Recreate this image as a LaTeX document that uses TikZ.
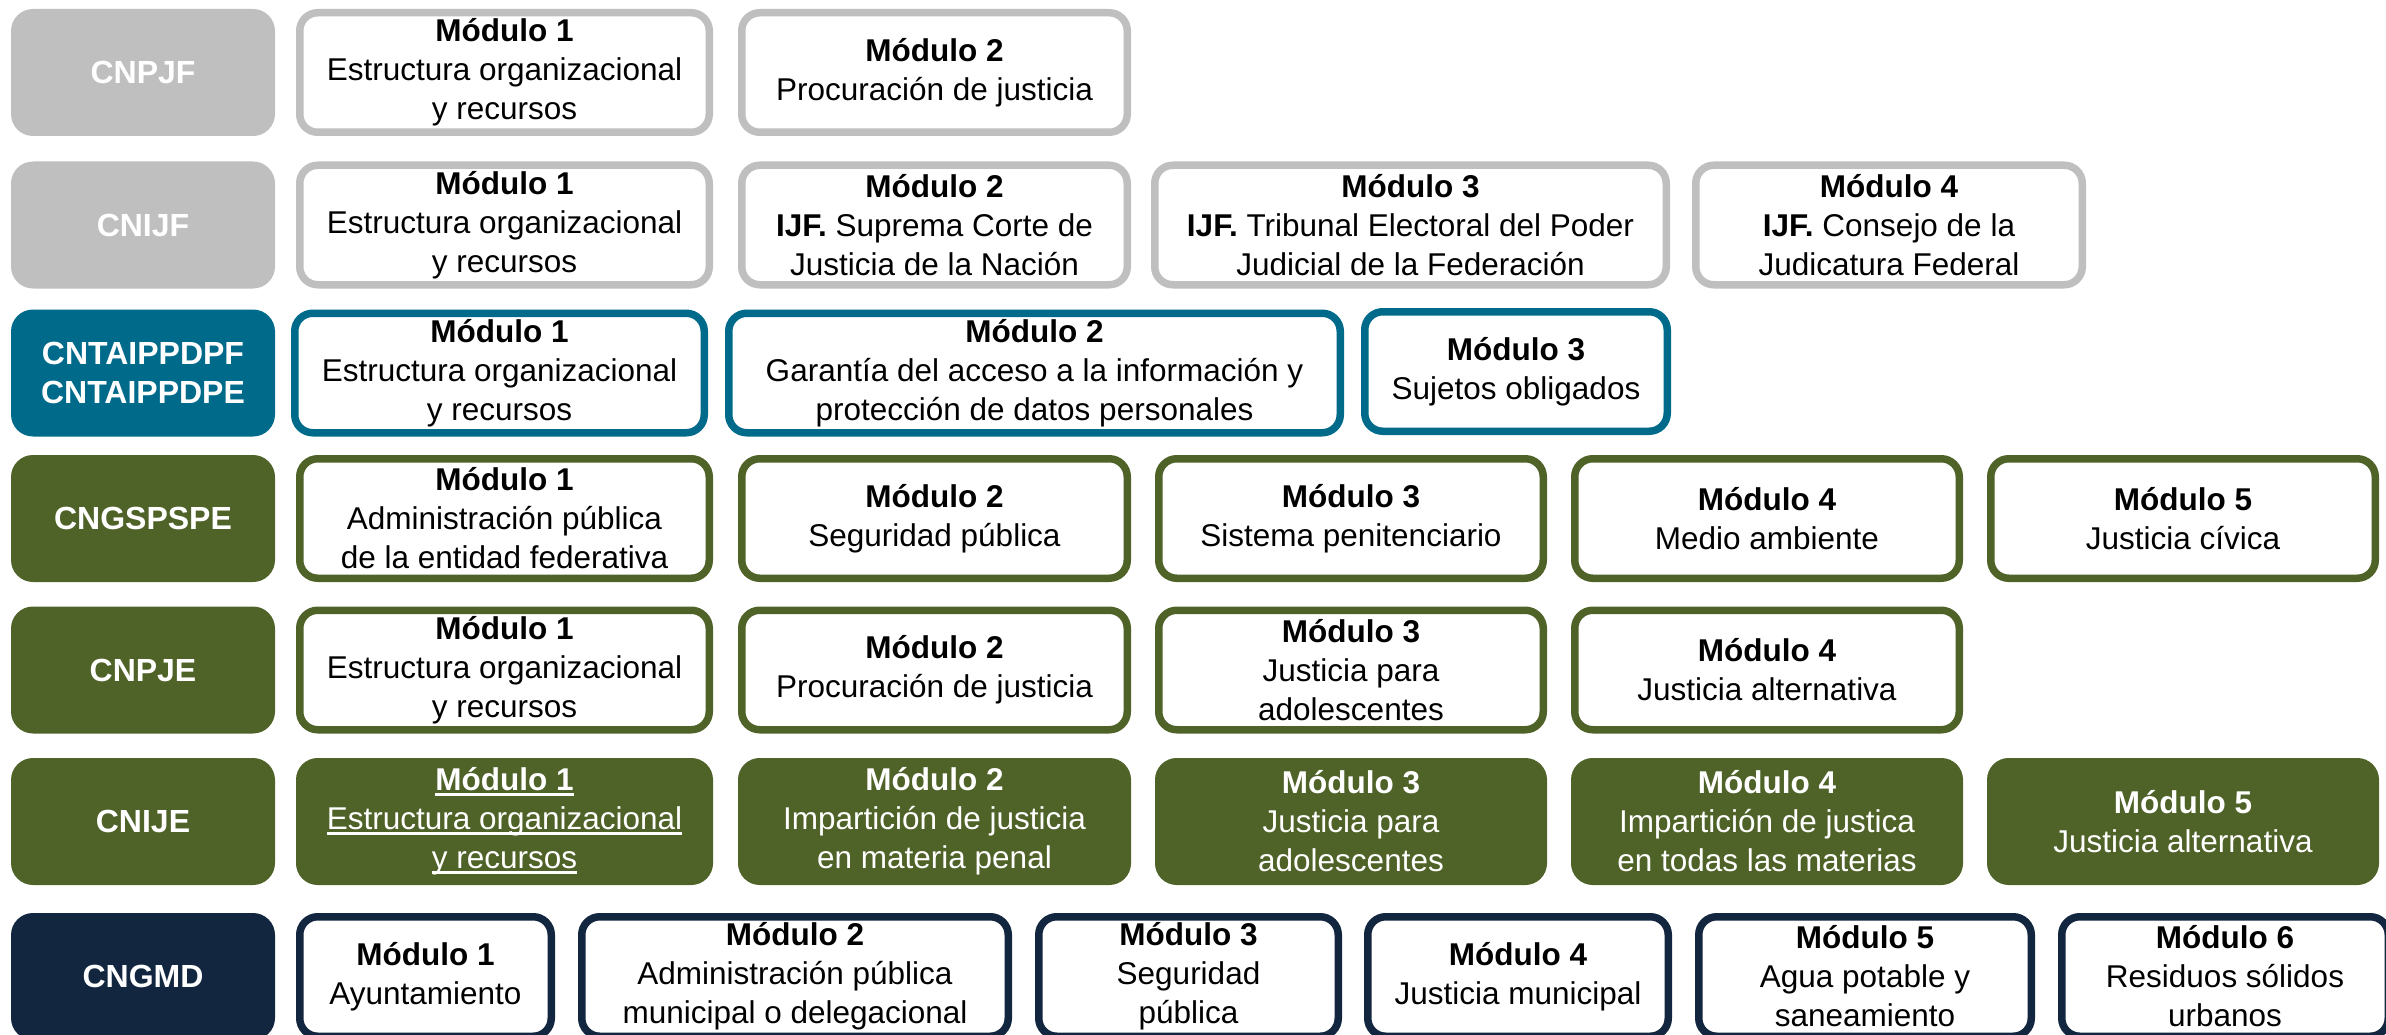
\documentclass[tikz,border=0pt]{standalone}
\usepackage{fontspec}
\setmainfont{Liberation Sans}
\definecolor{grisbox}{HTML}{BFBFBF}
\definecolor{azulbox}{HTML}{006A8A}
\definecolor{olivabox}{HTML}{4F6228}
\definecolor{marinobox}{HTML}{13263F}
\tikzset{
  orgbox/.style={rounded corners=22pt, minimum width=264pt, minimum height=127pt, inner sep=0pt, align=center, text=white, font=\fontsize{32}{39}\selectfont\bfseries},
  modbox/.style={draw, line width=7.5pt, rounded corners=18pt, fill=white, minimum height=119.5pt, inner sep=0pt, align=center, font=\fontsize{31.5}{39}\selectfont}
}
\newcommand{\modtit}[1]{\textbf{Módulo #1}}
\newsavebox{\subbox}
\newcommand{\subrayar}[1]{\sbox{\subbox}{#1}\rlap{\rule[-5pt]{\wd\subbox}{2.5pt}}\usebox{\subbox}}
\begin{document}
\begin{tikzpicture}[x=1pt, y=-1pt]
	\useasboundingbox (0,0) rectangle (2386,1035);
	% censos
	\begin{scope}[every node/.style={orgbox}]
		\node (cnpjf)[fill=grisbox] at (143,72.5) {CNPJF};
		\node (cnijf)[fill=grisbox] at (143,225) {CNIJF};
		\node (cntai)[fill=azulbox] at (143,373) {CNTAIPPDPF\\CNTAIPPDPE};
		\node (cngspspe)[fill=olivabox] at (143,518.5) {CNGSPSPE};
		\node (cnpje)[fill=olivabox] at (143,670) {CNPJE};
		\node (cnije)[fill=olivabox] at (143,821.5) {CNIJE};
		\node (cngmd)[fill=marinobox] at (143,976.5) {CNGMD};
	\end{scope}
	% federales
	\begin{scope}[every node/.style={modbox, draw=grisbox}]
		\node (pjf1)[minimum width=409.5pt] at (504.5,72.5) {\modtit{1}\\Estructura organizacional\\y recursos};
		\node (pjf2)[minimum width=385.5pt] at (934.5,72.5) {\modtit{2}\\Procuración de justicia};
		\node (ijf1)[minimum width=409.5pt] at (504.5,225) {\modtit{1}\\Estructura organizacional\\y recursos};
		\node (ijf2)[minimum width=385.5pt] at (934.5,225) {\modtit{2}\\\textbf{IJF.} Suprema Corte de\\Justicia de la Nación};
		\node (ijf3)[minimum width=511.5pt] at (1410.5,225) {\modtit{3}\\\textbf{IJF.} Tribunal Electoral del Poder\\Judicial de la Federación};
		\node (ijf4)[minimum width=386.5pt] at (1889,225) {\modtit{4}\\\textbf{IJF.} Consejo de la\\Judicatura Federal};
	\end{scope}
	\begin{scope}[every node/.style={modbox, draw=azulbox}]
		\node (tai1)[minimum width=409.5pt] at (499.5,373) {\modtit{1}\\Estructura organizacional\\y recursos};
		\node (tai2)[minimum width=611.5pt] at (1034.5,373) {\modtit{2}\\Garantía del acceso a la información y\\protección de datos personales};
		\node (tai3)[minimum width=302.5pt] at (1516,371.5) {\modtit{3}\\Sujetos obligados};
	\end{scope}
	% estatales
	\begin{scope}[every node/.style={modbox, draw=olivabox}]
		\node (gsp1)[minimum width=409.5pt] at (504.5,518.5) {\modtit{1}\\Administración pública\\de la entidad federativa};
		\node (gsp2)[minimum width=385.5pt] at (934.5,518.5) {\modtit{2}\\Seguridad pública};
		\node (gsp3)[minimum width=384.5pt] at (1351,518.5) {\modtit{3}\\Sistema penitenciario};
		\node (gsp4)[minimum width=384.5pt] at (1767,518.5) {\modtit{4}\\Medio ambiente};
		\node (gsp5)[minimum width=384.5pt] at (2183,518.5) {\modtit{5}\\Justicia cívica};
		\node (pje1)[minimum width=409.5pt] at (504.5,670) {\modtit{1}\\Estructura organizacional\\y recursos};
		\node (pje2)[minimum width=385.5pt] at (934.5,670) {\modtit{2}\\Procuración de justicia};
		\node (pje3)[minimum width=384.5pt] at (1351,670) {\modtit{3}\\Justicia para\\adolescentes};
		\node (pje4)[minimum width=384.5pt] at (1767,670) {\modtit{4}\\Justicia alternativa};
	\end{scope}
	\begin{scope}[every node/.style={modbox, draw=olivabox, fill=olivabox, text=white}]
		\node (ije1)[minimum width=409.5pt] at (504.5,821.5) {\subrayar{\textbf{Módulo 1}}\\\subrayar{Estructura organizacional}\\\subrayar{y recursos}};
		\node (ije2)[minimum width=385.5pt] at (934.5,821.5) {\modtit{2}\\Impartición de justicia\\en materia penal};
		\node (ije3)[minimum width=384.5pt] at (1351,821.5) {\modtit{3}\\Justicia para\\adolescentes};
		\node (ije4)[minimum width=384.5pt] at (1767,821.5) {\modtit{4}\\Impartición de justica\\en todas las materias};
		\node (ije5)[minimum width=384.5pt] at (2183,821.5) {\modtit{5}\\Justicia alternativa};
	\end{scope}
	% municipales
	\begin{scope}[every node/.style={modbox, draw=marinobox}]
		\node (gmd1)[minimum width=251.5pt] at (425.5,976.5) {\modtit{1}\\Ayuntamiento};
		\node (gmd2)[minimum width=426.5pt] at (795,976.5) {\modtit{2}\\Administración pública\\municipal o delegacional};
		\node (gmd3)[minimum width=299.5pt] at (1188.5,976.5) {\modtit{3}\\Seguridad\\pública};
		\node (gmd4)[minimum width=300.5pt] at (1518,976.5) {\modtit{4}\\Justicia municipal};
		\node (gmd5)[minimum width=332.5pt] at (1865,976.5) {\modtit{5}\\Agua potable y\\saneamiento};
		\node (gmd6)[minimum width=326.5pt] at (2225,976.5) {\modtit{6}\\Residuos sólidos\\urbanos};
	\end{scope}
\end{tikzpicture}
\end{document}
